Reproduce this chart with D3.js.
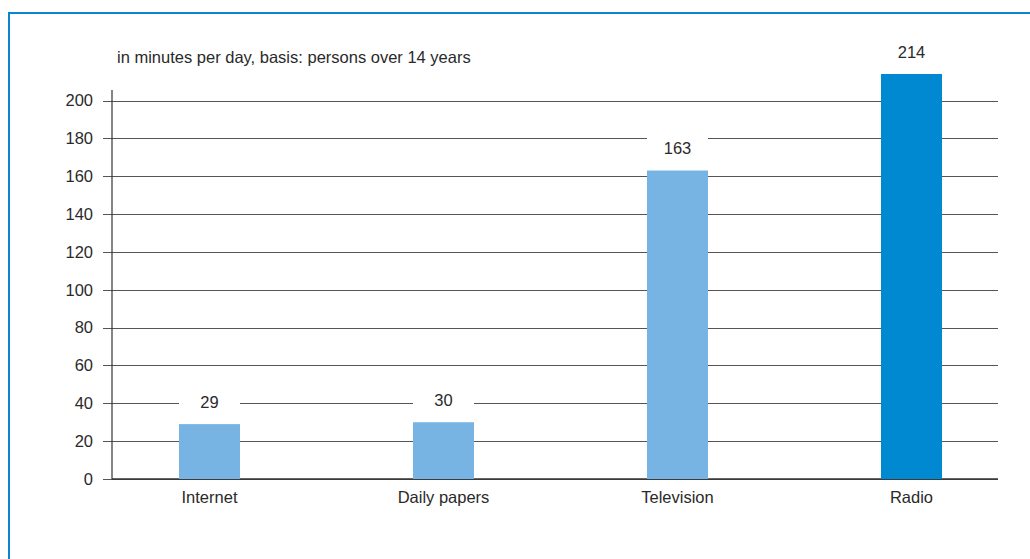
<!DOCTYPE html>
<html>
<head>
<meta charset="utf-8">
<script src="https://cdn.jsdelivr.net/npm/d3@7"></script>
<style>
  html, body { margin: 0; padding: 0; background: #fff; }
  svg { display: block; font-family: "Liberation Sans", Arial, sans-serif; }
</style>
</head>
<body>
<svg id="chart" width="1030" height="559"></svg>
<script>
// Average daily media usage
const categories = ["Internet", "Daily papers", "Television", "Radio"];
const minutes = [29, 30, 163, 214];
const barColors = ["#78b4e3", "#78b4e3", "#78b4e3", "#0088d1"];
const yTicks = [0, 20, 40, 60, 80, 100, 120, 140, 160, 180, 200];
const subtitle = "in minutes per day, basis: persons over 14 years";

const fontSize = 16.5;
const textColor = "#2a2a2a";

const svg = d3.select("#chart");

// Frame: blue rule along the top and left edge
svg.append("line").attr("x1", 8).attr("x2", 1030).attr("y1", 13).attr("y2", 13)
  .attr("stroke", "#0a86cf").attr("stroke-width", 2);
svg.append("line").attr("x1", 9).attr("x2", 9).attr("y1", 12).attr("y2", 559)
  .attr("stroke", "#0a86cf").attr("stroke-width", 2);

const plotLeft = 112, plotRight = 998;
const y = d3.scaleLinear().domain([0, 200]).range([479, 100.5]);
const x = d3.scaleBand().domain(categories).range([92.5, 1028.5]).padding(0);
const barW = 61;

// Gridlines with short ticks extending left of the axis
const grid = svg.append("g").attr("transform", `translate(${plotRight},0)`)
  .call(d3.axisLeft(y).tickValues(yTicks).tickSize(plotRight - plotLeft + 9).tickFormat(""));
grid.select(".domain").remove();
grid.selectAll(".tick line").attr("stroke", "#555").attr("stroke-width", 1)
  .attr("shape-rendering", "crispEdges");

// Y tick labels
svg.append("g").selectAll("text").data(yTicks).join("text")
  .attr("x", 93).attr("y", d => y(d)).attr("dy", "0.35em")
  .attr("text-anchor", "end").attr("font-size", fontSize).attr("fill", textColor)
  .text(d => d);

// Axis lines
svg.append("line").attr("x1", plotLeft).attr("x2", plotLeft).attr("y1", 90).attr("y2", y(0))
  .attr("stroke", "#333").attr("stroke-width", 1.2);
svg.append("line").attr("x1", plotLeft).attr("x2", plotRight).attr("y1", y(0)).attr("y2", y(0))
  .attr("stroke", "#333").attr("stroke-width", 1.5);

// Bars
svg.append("g").selectAll("rect").data(categories).join("rect")
  .attr("x", d => x(d) + x.bandwidth() / 2 - barW / 2)
  .attr("width", barW)
  .attr("y", (d, i) => y(minutes[i]))
  .attr("height", (d, i) => y(0) - y(minutes[i]))
  .attr("fill", (d, i) => barColors[i]);

// Value labels on a white knockout so gridlines stop short of them
const labels = svg.append("g").selectAll("g").data(categories).join("g")
  .attr("transform", (d, i) => `translate(${x(d) + x.bandwidth() / 2},${y(minutes[i]) - 22})`);
labels.append("rect").attr("x", -barW / 2).attr("y", -11).attr("width", barW).attr("height", 22)
  .attr("fill", "#fff");
labels.append("text").attr("text-anchor", "middle").attr("dy", "0.35em")
  .attr("font-size", fontSize).attr("fill", textColor)
  .text((d, i) => minutes[i]);

// Category labels
svg.append("g").selectAll("text").data(categories).join("text")
  .attr("x", d => x(d) + x.bandwidth() / 2).attr("y", 497).attr("dy", "0.35em")
  .attr("text-anchor", "middle").attr("font-size", fontSize).attr("fill", textColor)
  .text(d => d);

// Subtitle
svg.append("text").attr("x", 117).attr("y", 57).attr("dy", "0.35em")
  .attr("font-size", fontSize).attr("fill", textColor).text(subtitle);
</script>
</body>
</html>
